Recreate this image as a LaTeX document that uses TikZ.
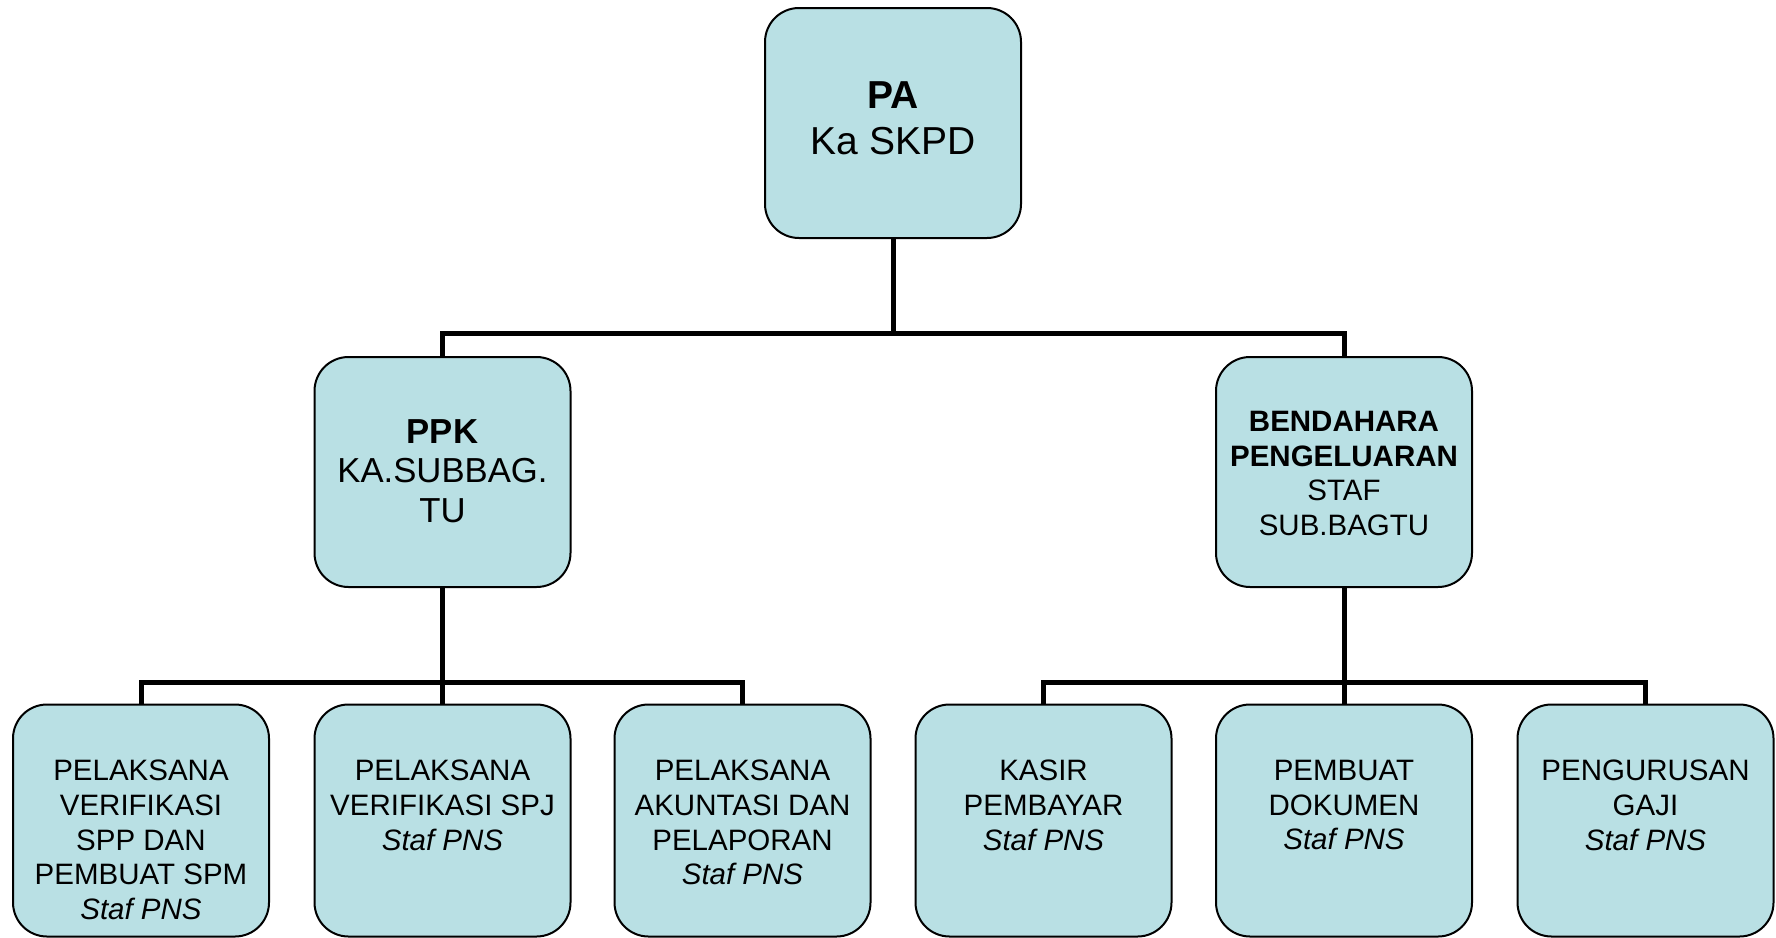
\documentclass[tikz,border=0pt]{standalone}
\usepackage{fontspec}
\setmainfont{Liberation Sans}
\definecolor{boxfill}{RGB}{185,224,228}
\begin{document}
\begin{tikzpicture}[x=0.5pt,y=-0.5pt,
  box/.style={draw=black, line width=1pt, fill=boxfill, rounded corners=17pt,
    minimum width=128pt, minimum height=115pt, inner sep=0pt},
  lowbox/.style={box, minimum height=116pt},
  lbl/.style={anchor=north, inner sep=0pt, align=center, text=black},
  topfont/.style={font=\fontsize{19.5pt}{23pt}\selectfont},
  midfont/.style={font=\fontsize{17.35pt}{19.75pt}\selectfont},
  benfont/.style={font=\fontsize{14.75pt}{17.3pt}\selectfont},
  lowfont/.style={font=\fontsize{14.75pt}{17.4pt}\selectfont},
  conn/.style={draw=black, line width=2.5pt}]
\useasboundingbox (0,0) rectangle (1776,937);

% boxes
\node[box] (pa)  at (893,123) {};
\node[box] (ppk) at (442.5,472) {};
\node[box] (ben) at (1344,472) {};
\node[lowbox] (l1) at (141,820.5) {};
\node[lowbox] (l2) at (442.5,820.5) {};
\node[lowbox] (l3) at (742.5,820.5) {};
\node[lowbox] (l4) at (1043.5,820.5) {};
\node[lowbox] (l5) at (1344,820.5) {};
\node[lowbox] (l6) at (1645.5,820.5) {};

% labels
\node[lbl, topfont] (pa-t) at (893,81) {\textbf{PA}\\Ka SKPD};
\node[lbl, midfont] (ppk-t) at (442.5,419) {\textbf{PPK}\\KA.SUBBAG.\\TU};
\node[lbl, benfont] (ben-t) at (1344,411) {\textbf{BENDAHARA}\\\textbf{PENGELUARAN}\\STAF\\SUB.BAGTU};
\node[lbl, lowfont] (l1-t) at (141,759.5) {PELAKSANA\\VERIFIKASI\\SPP DAN\\PEMBUAT SPM\\\textit{Staf PNS}};
\node[lbl, lowfont] (l2-t) at (442.5,759.5) {PELAKSANA\\VERIFIKASI SPJ\\\textit{Staf PNS}};
\node[lbl, lowfont] (l3-t) at (742.5,759.5) {PELAKSANA\\AKUNTASI DAN\\PELAPORAN\\\textit{Staf PNS}};
\node[lbl, lowfont] (l4-t) at (1043.5,759.5) {KASIR\\PEMBAYAR\\\textit{Staf PNS}};
\node[lbl, lowfont] (l5-t) at (1344,759.5) {PEMBUAT\\DOKUMEN\\\textit{Staf PNS}};
\node[lbl, lowfont] (l6-t) at (1645.5,759.5) {PENGURUSAN\\GAJI\\\textit{Staf PNS}};

% connectors
\coordinate (bar1) at (893,333);
\coordinate (bar2) at (442.5,682);
\coordinate (bar3) at (1344,682);
\draw[conn] (pa.south) -- (bar1);
\draw[conn] (ppk.north) |- (bar1) -| (ben.north);
\draw[conn] (ppk.south) -- (bar2);
\draw[conn] (l1.north) |- (bar2) -| (l3.north);
\draw[conn] (l2.north) -- (bar2);
\draw[conn] (ben.south) -- (bar3);
\draw[conn] (l4.north) |- (bar3) -| (l6.north);
\draw[conn] (l5.north) -- (bar3);
\end{tikzpicture}
\end{document}
